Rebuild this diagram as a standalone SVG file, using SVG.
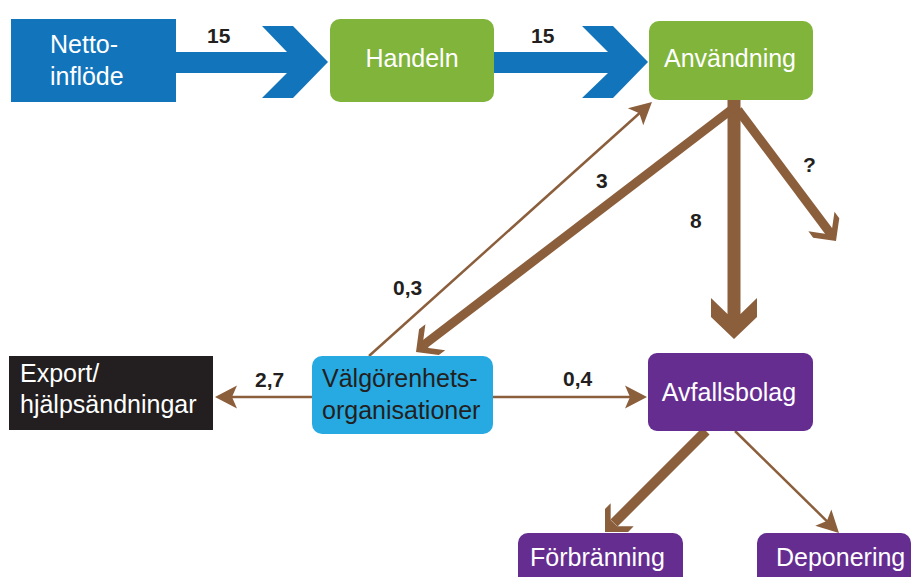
<svg xmlns="http://www.w3.org/2000/svg" xmlns:xlink="http://www.w3.org/1999/xlink" width="913" height="577" viewBox="0 0 913 577">
<style>
.lbl{font-family:"Liberation Sans",Arial,sans-serif;font-size:25px;fill:#ffffff}
.dark{fill:#231f20}
.num{font-family:"Liberation Sans",Arial,sans-serif;font-size:21px;font-weight:bold;fill:#231f20}
.thin{stroke:#8b5e3c;stroke-width:2.5;fill:none;marker-end:url(#ah)}
.thick{stroke:#8b5e3c;fill:none}
.head{fill:#8b5e3c}
.flow{fill:#1275bc}
</style>
<defs>
<marker id="ah" viewBox="-23 -13 25 26" refX="-6" refY="0" markerWidth="25" markerHeight="26" markerUnits="userSpaceOnUse" orient="auto">
<path d="M0,0 L-22,-11.5 L-17,0 L-22,11.5 Z" fill="#8b5e3c"/>
</marker>
<polygon id="bighead" points="0,0 -22,23 -41,23 -25,6.5 -25,-6.5 -41,-23 -22,-23"/>
<polygon id="smallhead" points="0,0 -16.3,16.3 -24.3,16.3 -12.5,4.5 -12.5,-4.5 -24.3,-16.3 -16.3,-16.3"/>
</defs>
<rect width="913" height="577" fill="#ffffff"/>

<g id="connectors">
<polygon class="flow" points="176,52 287,52 262,26 293,26 328,62 293,98 262,98 287,73 176,73"/>
<polygon class="flow" points="494,52 608,52 582,26 613,26 648,62 613,98 582,98 608,73 494,73"/>

<line class="thick" x1="734" y1="100" x2="734" y2="315" stroke-width="13"/>
<use xlink:href="#bighead" href="#bighead" class="head" transform="translate(734,339) rotate(90)"/>

<line class="thick" x1="731" y1="110" x2="425" y2="344" stroke-width="9"/>
<use xlink:href="#smallhead" href="#smallhead" class="head" transform="translate(416,352) rotate(142.6)"/>

<line class="thick" x1="738" y1="110" x2="829" y2="231.5" stroke-width="9"/>
<use xlink:href="#smallhead" href="#smallhead" class="head" transform="translate(836,241) rotate(53.2)"/>

<line class="thick" x1="706" y1="431" x2="614" y2="523" stroke-width="10"/>
<use xlink:href="#smallhead" href="#smallhead" class="head" transform="translate(605,532) rotate(135)"/>

<line class="thin" x1="369" y1="356" x2="647.5" y2="106"/>
<line class="thin" x1="312" y1="397" x2="221" y2="397"/>
<line class="thin" x1="493" y1="397" x2="641" y2="397"/>
<line class="thin" x1="735" y1="431" x2="834.7" y2="528.8"/>

<text class="num" x="207" y="43">15</text>
<text class="num" x="531" y="43">15</text>
<text class="num" x="803" y="172">?</text>
<text class="num" x="596" y="188">3</text>
<text class="num" x="690" y="228">8</text>
<text class="num" x="393" y="295">0,3</text>
<text class="num" x="255" y="387">2,7</text>
<text class="num" x="563" y="386">0,4</text>
</g>

<g id="netto">
<rect x="11" y="19" width="165" height="83" fill="#1275bc"/>
<text class="lbl" x="50" y="53">Netto-</text>
<text class="lbl" x="50" y="85">inflöde</text>
</g>

<g id="handeln">
<rect x="330" y="19" width="164" height="83" rx="10" fill="#80b43b"/>
<text class="lbl" x="412" y="67" text-anchor="middle">Handeln</text>
</g>

<g id="anvandning">
<rect x="649" y="21" width="164" height="79" rx="10" fill="#80b43b"/>
<text class="lbl" x="730" y="67" text-anchor="middle">Användning</text>
</g>

<g id="export">
<rect x="9" y="356" width="204" height="74" fill="#231f20"/>
<text class="lbl" x="20" y="382">Export/</text>
<text class="lbl" x="20" y="413">hjälpsändningar</text>
</g>

<g id="valgorenhet">
<rect x="312" y="356" width="181" height="78" rx="10" fill="#27a9e1"/>
<text class="lbl dark" x="322" y="387">Välgörenhets-</text>
<text class="lbl dark" x="322" y="419">organisationer</text>
</g>

<g id="avfallsbolag">
<rect x="648" y="353" width="165" height="78" rx="9" fill="#662d91"/>
<text class="lbl" x="729" y="401" text-anchor="middle">Avfallsbolag</text>
</g>

<g id="forbranning">
<rect x="518" y="533" width="165" height="60" rx="10" fill="#662d91"/>
<text class="lbl" x="530" y="566">Förbränning</text>
</g>

<g id="deponering">
<rect x="757" y="533" width="154" height="60" rx="10" fill="#662d91"/>
<text class="lbl" x="776" y="566">Deponering</text>
</g>
</svg>
